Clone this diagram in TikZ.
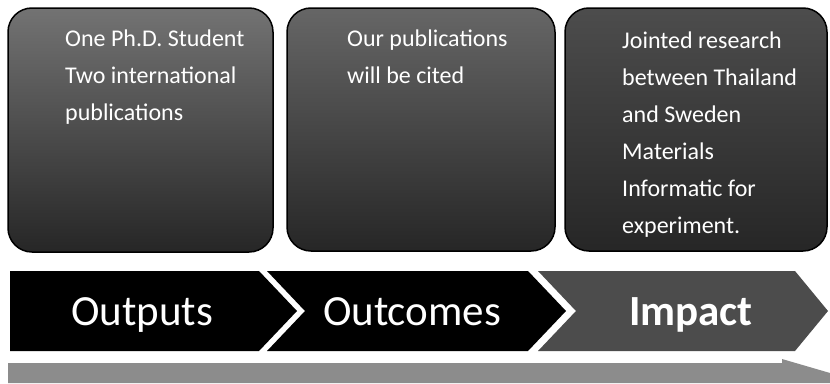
\documentclass[tikz,border=0pt]{standalone}
\usepackage{fontspec}
\setmainfont{Carlito}
\begin{document}
\begin{tikzpicture}[x=1pt,y=-1pt,
  card/.style={draw=black,line width=1.5pt,rounded corners=24pt,
    top color=#1,bottom color=black!85},
  cardtext/.style={anchor=north west,inner sep=0pt,align=left,text=white,
    font=\fontsize{24}{37}\selectfont},
  stagetext/.style={anchor=base,inner sep=0pt,text=white,
    font=\fontsize{43}{50}\selectfont},
  darkstage/.style={fill=black,draw=none},
  lightstage/.style={fill=black!70,draw=none},
  timeline/.style={fill=black!45,draw=none}]
\useasboundingbox (0,0) rectangle (830,383);
\fill[white] (0,0) rectangle (830,383);

% three result cards
\path[card=black!55] (8,8) rectangle (273,252);
\path[card=black!60] (287,8) rectangle (555,251);
\path[card=black!70] (565,8) rectangle (827,251);

\node[cardtext] (outputsText) at (65,30)
  {One Ph.D. Student\\
   Two international\\
   publications};
\node[cardtext] (outcomesText) at (347,30)
  {Our publications\\
   will be cited};
\node[cardtext] (impactText) at (622,32)
  {Jointed research\\
   between Thailand\\
   and Sweden\\
   Materials\\
   Informatic for\\
   experiment.};

% chevron process bar
\path[darkstage] (10,271) -- (259,271) -- (297,311) -- (259,351) -- (10,351) -- cycle;
\path[darkstage] (267,271) -- (528,271) -- (566,311) -- (528,351) -- (267,351) -- (305,311) -- cycle;
\path[lightstage] (538,271) -- (795,271) -- (828,311) -- (795,351) -- (538,351) -- (576,311) -- cycle;

\node[stagetext] (outputs) at (142,325) {Outputs};
\node[stagetext] (outcomes) at (412,325) {Outcomes};
\node[stagetext,font=\fontsize{43}{50}\selectfont\bfseries] (impact) at (691,325) {Impact};

% time line arrow along the bottom
\path[timeline] (8,363) -- (782,363) -- (782,359) -- (830,373) -- (830,383) -- (8,383) -- cycle;
\end{tikzpicture}
\end{document}
